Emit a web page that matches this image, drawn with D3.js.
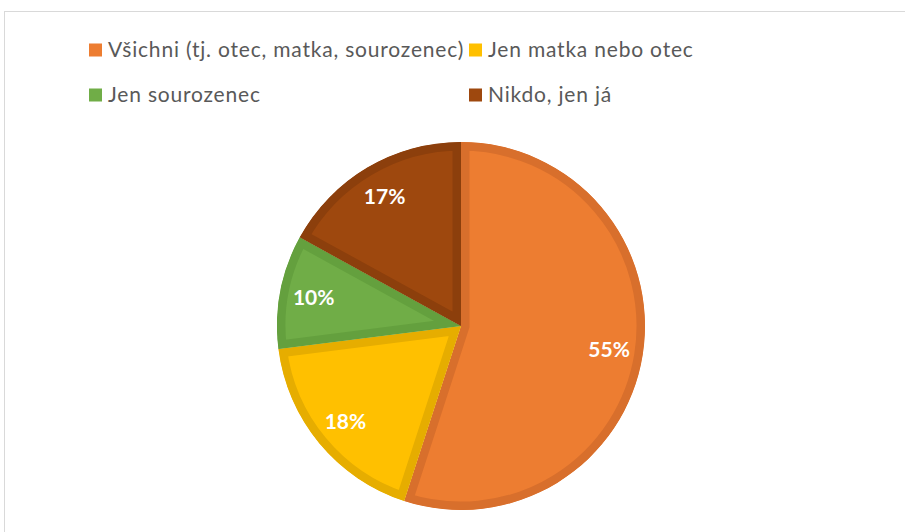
<!DOCTYPE html>
<html>
<head>
<meta charset="utf-8">
<script src="https://cdn.jsdelivr.net/npm/d3@7"></script>
<style>
  body{margin:0;background:#fff;}
  svg{display:block;}
</style>
</head>
<body>
<svg></svg>
<script>
var categories=["Všichni (tj. otec, matka, sourozenec)","Jen matka nebo otec","Jen sourozenec","Nikdo, jen já"];
var values=[55,18,10,17];
var fills=["#ED7D31","#FFC000","#70AD47","#9E480E"];
var strokes=["#D86F2C","#E6AD00","#64A03E","#8C3F0C"];

var drawPie=function(w,h)
{
  var svg=d3.select("svg")
            .attr("width",w)
            .attr("height",h);

  // chart frame (runs off the right and bottom edges)
  svg.append("rect")
     .attr("x",4.5)
     .attr("y",11.5)
     .attr("width",w+20)
     .attr("height",h+20)
     .attr("fill","#fff")
     .attr("stroke","#d9d9d9")
     .attr("stroke-width",1);

  var cx=461,cy=326,r=184;
  var colors=d3.scaleOrdinal().domain(categories).range(fills);
  var borders=d3.scaleOrdinal().domain(categories).range(strokes);

  var pie=d3.pie().sort(null).value(function(d){return d.value;});
  var data=categories.map(function(c,i){return {name:c,value:values[i]};});
  var arcs=pie(data);
  var arc=d3.arc().innerRadius(0).outerRadius(r);
  var labelArc=d3.arc().innerRadius(150).outerRadius(150);

  var plot=svg.append("g")
              .attr("transform","translate("+cx+","+cy+")");

  var defs=svg.append("defs");
  defs.selectAll("clipPath")
      .data(arcs)
      .enter()
      .append("clipPath")
      .attr("id",function(d,i){return "clip"+i;})
      .append("path")
      .attr("d",arc);

  plot.selectAll("path.slice")
      .data(arcs)
      .enter()
      .append("path")
      .classed("slice",true)
      .attr("d",arc)
      .attr("fill",function(d){return colors(d.data.name);})
      .attr("stroke",function(d){return borders(d.data.name);})
      .attr("stroke-width",17)
      .attr("stroke-linejoin","miter")
      .attr("clip-path",function(d,i){return "url(#clip"+i+")";});

  plot.selectAll("text.lbl")
      .data(arcs)
      .enter()
      .append("text")
      .classed("lbl",true)
      .attr("transform",function(d){return "translate("+labelArc.centroid(d)+")";})
      .attr("text-anchor","middle")
      .attr("dy","0.36em")
      .attr("fill","#fff")
      .attr("font-family","Lato, 'Open Sans', sans-serif")
      .attr("font-weight","bold")
      .attr("font-size",21)
      .text(function(d){return d.data.value+"%";});

  // legend
  var legendPos=[[89,57],[469,57],[89,102],[469,102]];
  var legend=svg.append("g").classed("legend",true);
  var items=legend.selectAll("g")
                  .data(data)
                  .enter()
                  .append("g")
                  .attr("transform",function(d,i){return "translate("+legendPos[i][0]+","+legendPos[i][1]+")";});
  items.append("rect")
       .attr("x",0)
       .attr("y",-13.5)
       .attr("width",13)
       .attr("height",13)
       .attr("fill",function(d){return colors(d.name);});
  items.append("text")
       .attr("x",19)
       .attr("y",0)
       .attr("fill","#595959")
       .attr("font-family","Lato, 'Open Sans', sans-serif")
       .attr("font-size",21)
       .attr("letter-spacing",0.8)
       .text(function(d){return d.name;});
};

drawPie(905,532);
</script>
</body>
</html>
